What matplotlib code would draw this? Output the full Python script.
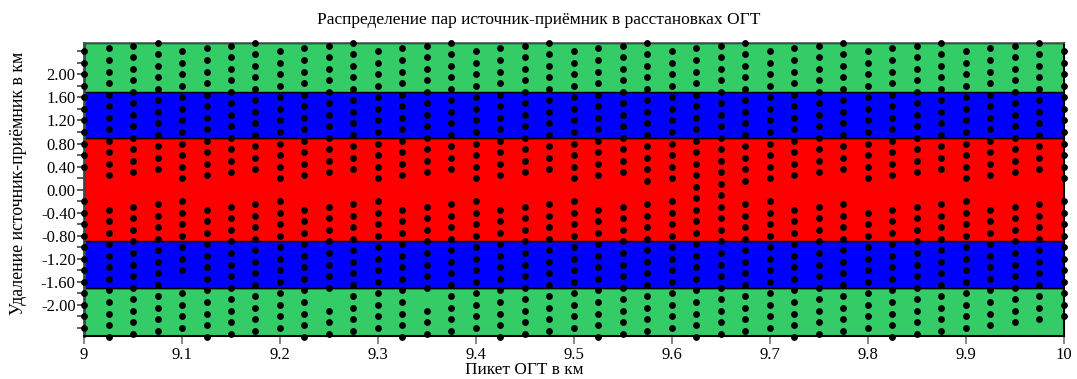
import matplotlib
matplotlib.use("Agg")
import matplotlib.pyplot as plt

# Пикеты ОГТ (км)
piket = [9.000, 9.025, 9.050, 9.075, 9.100, 9.125, 9.150, 9.175, 9.200, 9.225,
         9.250, 9.275, 9.300, 9.325, 9.350, 9.375, 9.400, 9.425, 9.450, 9.475,
         9.500, 9.525, 9.550, 9.575, 9.600, 9.625, 9.650, 9.675, 9.700, 9.725,
         9.750, 9.775, 9.800, 9.825, 9.850, 9.875, 9.900, 9.925, 9.950, 9.975,
         10.000]

# Удаления источник-приёмник (км) для каждого пикета
udalenie = [
    [2.4, 2.2, 2.0, 1.8, 1.6, 1.4, 1.2, 1.0, 0.8, 0.6, 0.4, -0.2, -0.4, -0.6, -0.8, -1.0, -1.2, -1.4, -1.6, -1.8, -2.0, -2.2, -2.4],
    [2.45, 2.25, 2.05, 1.85, 1.65, 1.45, 1.25, 1.05, 0.85, 0.65, 0.45, 0.25, -0.35, -0.55, -0.75, -0.95, -1.15, -1.35, -1.55, -1.75, -1.95, -2.15, -2.35, -2.55],
    [2.5, 2.3, 2.1, 1.9, 1.7, 1.5, 1.3, 1.1, 0.9, 0.7, 0.5, 0.3, -0.3, -0.5, -0.7, -0.9, -1.1, -1.3, -1.5, -1.7, -1.9, -2.1, -2.3, -2.5],
    [2.55, 2.35, 2.15, 1.95, 1.75, 1.55, 1.35, 1.15, 0.95, 0.75, 0.55, 0.35, -0.25, -0.45, -0.65, -0.85, -1.05, -1.25, -1.45, -1.65, -1.85, -2.05, -2.25, -2.45],
    [2.4, 2.2, 2.0, 1.8, 1.6, 1.4, 1.2, 1.0, 0.8, 0.6, 0.4, 0.2, -0.2, -0.4, -0.6, -0.8, -1.0, -1.2, -1.4, -1.8, -2.0, -2.2, -2.4],
    [2.45, 2.25, 2.05, 1.85, 1.65, 1.45, 1.25, 1.05, 0.85, 0.65, 0.45, 0.25, -0.35, -0.55, -0.75, -0.95, -1.15, -1.35, -1.55, -1.75, -1.95, -2.15, -2.35, -2.55],
    [2.5, 2.3, 2.1, 1.9, 1.7, 1.5, 1.3, 1.1, 0.9, 0.7, 0.5, 0.3, -0.3, -0.5, -0.7, -0.9, -1.1, -1.3, -1.5, -1.7, -1.9, -2.1, -2.3, -2.5],
    [2.55, 2.35, 2.15, 1.95, 1.75, 1.55, 1.35, 1.15, 0.95, 0.75, 0.55, 0.35, -0.25, -0.45, -0.65, -0.85, -1.05, -1.25, -1.45, -1.65, -1.85, -2.05, -2.25, -2.45],
    [2.4, 2.2, 2.0, 1.8, 1.6, 1.4, 1.2, 1.0, 0.8, 0.6, 0.4, 0.2, -0.2, -0.4, -0.6, -0.8, -1.0, -1.2, -1.4, -1.6, -1.8, -2.0, -2.2, -2.4],
    [2.45, 2.25, 2.05, 1.85, 1.65, 1.45, 1.25, 1.05, 0.85, 0.65, 0.45, 0.25, -0.35, -0.55, -0.75, -0.95, -1.15, -1.35, -1.55, -1.75, -1.95, -2.15, -2.35, -2.55],
    [2.5, 2.3, 2.1, 1.9, 1.7, 1.5, 1.3, 1.1, 0.9, 0.7, 0.5, 0.3, -0.3, -0.5, -0.7, -0.9, -1.1, -1.3, -1.5, -1.7, -2.1, -2.3, -2.5],
    [2.55, 2.35, 2.15, 1.95, 1.75, 1.55, 1.35, 1.15, 0.95, 0.75, 0.55, 0.35, -0.25, -0.45, -0.65, -0.85, -1.05, -1.25, -1.45, -1.65, -1.85, -2.05, -2.25, -2.45],
    [2.4, 2.2, 2.0, 1.8, 1.6, 1.4, 1.2, 1.0, 0.8, 0.6, 0.4, 0.2, -0.2, -0.4, -0.6, -0.8, -1.0, -1.2, -1.4, -1.6, -1.8, -2.0, -2.2, -2.4],
    [2.45, 2.25, 2.05, 1.85, 1.65, 1.45, 1.25, 1.05, 0.85, 0.65, 0.45, 0.25, -0.35, -0.55, -0.75, -0.95, -1.15, -1.35, -1.55, -1.75, -1.95, -2.15, -2.35, -2.55],
    [2.5, 2.3, 2.1, 1.9, 1.7, 1.5, 1.3, 1.1, 0.9, 0.7, 0.5, 0.3, -0.3, -0.5, -0.7, -0.9, -1.1, -1.3, -1.5, -1.7, -2.1, -2.3, -2.5],
    [2.55, 2.35, 2.15, 1.95, 1.75, 1.55, 1.35, 1.15, 0.95, 0.75, 0.55, 0.35, -0.25, -0.45, -0.65, -0.85, -1.05, -1.25, -1.45, -1.65, -1.85, -2.05, -2.25, -2.45],
    [2.4, 2.2, 2.0, 1.8, 1.6, 1.4, 1.2, 1.0, 0.8, 0.6, 0.4, 0.2, -0.2, -0.4, -0.6, -0.8, -1.0, -1.2, -1.4, -1.6, -1.8, -2.0, -2.2, -2.4],
    [2.45, 2.25, 2.05, 1.85, 1.65, 1.45, 1.25, 1.05, 0.85, 0.65, 0.45, 0.25, -0.35, -0.55, -0.75, -0.95, -1.15, -1.35, -1.55, -1.75, -1.95, -2.15, -2.35, -2.55],
    [2.5, 2.3, 2.1, 1.9, 1.7, 1.5, 1.3, 1.1, 0.9, 0.7, 0.5, 0.3, -0.3, -0.5, -0.7, -0.9, -1.1, -1.3, -1.5, -1.7, -1.9, -2.1, -2.3, -2.5],
    [2.55, 2.35, 2.15, 1.95, 1.75, 1.55, 1.35, 1.15, 0.95, 0.75, 0.55, 0.35, -0.25, -0.45, -0.65, -0.85, -1.05, -1.25, -1.45, -1.65, -1.85, -2.05, -2.25, -2.45],
    [2.4, 2.2, 2.0, 1.8, 1.6, 1.4, 1.2, 1.0, 0.8, 0.6, 0.4, 0.2, -0.2, -0.4, -0.6, -0.8, -1.0, -1.2, -1.4, -1.6, -1.8, -2.0, -2.2, -2.4],
    [2.45, 2.25, 2.05, 1.85, 1.65, 1.45, 1.25, 1.05, 0.85, 0.65, 0.45, 0.25, -0.35, -0.55, -0.75, -0.95, -1.15, -1.35, -1.55, -1.75, -1.95, -2.15, -2.35, -2.55],
    [2.5, 2.3, 2.1, 1.9, 1.7, 1.5, 1.3, 1.1, 0.9, 0.7, 0.5, 0.3, -0.3, -0.5, -0.7, -0.9, -1.1, -1.3, -1.5, -1.7, -1.9, -2.1, -2.3, -2.5],
    [2.55, 2.35, 2.15, 1.95, 1.75, 1.55, 1.35, 1.15, 0.95, 0.75, 0.55, 0.35, 0.15, -0.25, -0.45, -0.65, -0.85, -1.05, -1.25, -1.45, -1.65, -1.85, -2.05, -2.25, -2.45],
    [2.4, 2.2, 2.0, 1.8, 1.6, 1.4, 1.2, 1.0, 0.8, 0.6, 0.4, 0.2, -0.2, -0.4, -0.6, -0.8, -1.0, -1.2, -1.4, -1.6, -1.8, -2.0, -2.2, -2.4],
    [2.45, 2.25, 2.05, 1.85, 1.65, 1.45, 1.25, 1.05, 0.85, 0.65, 0.45, 0.25, 0.05, -0.15, -0.35, -0.55, -0.75, -0.95, -1.15, -1.35, -1.55, -1.75, -1.95, -2.15, -2.35, -2.55],
    [2.5, 2.3, 2.1, 1.9, 1.7, 1.5, 1.3, 1.1, 0.9, 0.7, 0.5, 0.3, 0.1, -0.1, -0.3, -0.5, -0.7, -0.9, -1.1, -1.3, -1.5, -1.7, -1.9, -2.1, -2.3, -2.5],
    [2.55, 2.35, 2.15, 1.95, 1.75, 1.55, 1.35, 1.15, 0.95, 0.75, 0.55, 0.35, 0.15, -0.25, -0.45, -0.65, -0.85, -1.05, -1.25, -1.45, -1.65, -1.85, -2.05, -2.25, -2.45],
    [2.4, 2.2, 2.0, 1.8, 1.6, 1.4, 1.2, 1.0, 0.8, 0.6, 0.4, 0.2, -0.2, -0.4, -0.6, -0.8, -1.0, -1.2, -1.4, -1.6, -1.8, -2.0, -2.2, -2.4],
    [2.45, 2.25, 2.05, 1.85, 1.65, 1.45, 1.25, 1.05, 0.85, 0.65, 0.45, 0.25, -0.35, -0.55, -0.75, -0.95, -1.15, -1.35, -1.55, -1.75, -1.95, -2.15, -2.35, -2.55],
    [2.5, 2.3, 2.1, 1.9, 1.7, 1.5, 1.3, 1.1, 0.9, 0.7, 0.5, 0.3, -0.3, -0.5, -0.7, -0.9, -1.1, -1.3, -1.5, -1.7, -1.9, -2.1, -2.3, -2.5],
    [2.55, 2.35, 2.15, 1.95, 1.75, 1.55, 1.35, 1.15, 0.95, 0.75, 0.55, 0.35, -0.25, -0.45, -0.65, -0.85, -1.05, -1.25, -1.45, -1.65, -1.85, -2.05, -2.25, -2.45],
    [2.4, 2.2, 2.0, 1.8, 1.6, 1.4, 1.2, 1.0, 0.8, 0.6, 0.4, 0.2, -0.4, -0.6, -0.8, -1.0, -1.2, -1.4, -1.6, -1.8, -2.0, -2.2, -2.4],
    [2.45, 2.25, 2.05, 1.85, 1.65, 1.45, 1.25, 1.05, 0.85, 0.65, 0.45, 0.25, -0.35, -0.55, -0.75, -0.95, -1.15, -1.35, -1.55, -1.75, -1.95, -2.15, -2.35, -2.55],
    [2.5, 2.3, 2.1, 1.9, 1.7, 1.5, 1.3, 1.1, 0.9, 0.7, 0.5, 0.3, -0.3, -0.5, -0.7, -0.9, -1.1, -1.3, -1.5, -1.7, -1.9, -2.1, -2.3, -2.5],
    [2.55, 2.35, 2.15, 1.95, 1.75, 1.55, 1.35, 1.15, 0.95, 0.75, 0.55, 0.35, -0.25, -0.45, -0.65, -0.85, -1.05, -1.25, -1.45, -1.65, -1.85, -2.05, -2.25, -2.45],
    [2.4, 2.2, 2.0, 1.8, 1.6, 1.4, 1.2, 1.0, 0.8, 0.6, 0.4, 0.2, -0.2, -0.4, -0.6, -0.8, -1.0, -1.2, -1.4, -1.6, -1.8, -2.0, -2.2, -2.4],
    [2.45, 2.25, 2.05, 1.85, 1.65, 1.45, 1.25, 1.05, 0.85, 0.65, 0.45, 0.25, -0.35, -0.55, -0.75, -0.95, -1.15, -1.35, -1.55, -1.75, -1.95, -2.15, -2.35],
    [2.5, 2.3, 2.1, 1.9, 1.7, 1.5, 1.3, 1.1, 0.9, 0.7, 0.5, 0.3, -0.3, -0.5, -0.7, -0.9, -1.1, -1.3, -1.5, -1.7, -1.9, -2.1, -2.3],
    [2.55, 2.35, 2.15, 1.95, 1.75, 1.55, 1.35, 1.15, 0.95, 0.75, 0.55, 0.35, -0.25, -0.45, -0.65, -0.85, -1.05, -1.25, -1.45, -1.65, -1.85, -2.05, -2.25],
    [2.4, 2.2, 2.0, 1.8, 1.6, 1.4, 1.2, 1.0, 0.8, 0.6, 0.4, 0.2, -0.2, -0.4, -0.6, -0.8, -1.0, -1.2, -1.4, -1.6, -1.8, -2.0, -2.2],
]

# Зоны удалений: (нижняя граница, верхняя граница, цвет)
zony = [(-2.54, -1.70, "#33CC66"), (-1.70, -0.90, "#0000FF"), (-0.90, 0.90, "#FF0000"),
        (0.90, 1.70, "#0000FF"), (1.70, 2.54, "#33CC66")]

xticks = [9.0, 9.1, 9.2, 9.3, 9.4, 9.5, 9.6, 9.7, 9.8, 9.9, 10.0]
xlabels = ["9", "9.1", "9.2", "9.3", "9.4", "9.5", "9.6", "9.7", "9.8", "9.9", "10"]
yticks = [-2.0, -1.6, -1.2, -0.8, -0.4, 0.0, 0.4, 0.8, 1.2, 1.6, 2.0]
ylabels = ["-2.00", "-1.60", "-1.20", "-0.80", "-0.40", "0.00", "0.40", "0.80", "1.20", "1.60", "2.00"]
yminor = [-2.4, -2.2, -1.8, -1.4, -1.0, -0.6, -0.2, 0.2, 0.6, 1.0, 1.4, 1.8, 2.2, 2.4]

plt.rcParams["font.family"] = ["Liberation Serif", "DejaVu Serif"]

fig = plt.figure(figsize=(10.77, 3.79), dpi=100)
ax = fig.add_axes([0.078, 0.1135, 0.9099, 0.7723])

for y0, y1, c in zony:
    ax.axhspan(y0, y1, facecolor=c, edgecolor="black", linewidth=1.0, zorder=0)

for x, ys in zip(piket, udalenie):
    ax.plot([x] * len(ys), ys, "o", color="black", markersize=3.9, linestyle="none",
            clip_on=False, zorder=4)

ax.set_xlim(9.0, 10.0)
ax.set_ylim(-2.54, 2.54)

ax.set_xticks(xticks)
ax.set_xticklabels(xlabels, fontsize=12)
ax.set_yticks(yticks)
ax.set_yticklabels(ylabels, fontsize=12)
ax.set_yticks(yminor, minor=True)
ax.tick_params(axis="x", length=6, width=1.2, color="#777777", pad=2)
ax.tick_params(axis="y", which="both", length=5, width=1.2, color="#444444", pad=1)

for s in ["bottom", "right"]:
    ax.spines[s].set_linewidth(1.5)
    ax.spines[s].set_color("black")
ax.spines["left"].set_linewidth(2.0)
ax.spines["left"].set_color("#2F4F3F")
ax.spines["top"].set_linewidth(1.2)
ax.spines["top"].set_color("#555555")

fig.text(0.5, 0.947, "Распределение пар источник-приёмник в расстановках ОГТ",
         ha="center", va="center", fontsize=12.5)
fig.text(0.487, 0.024, "Пикет ОГТ в км", ha="center", va="center", fontsize=12.4)
fig.text(0.017, 0.515, "Удаление источник-приёмник в км", ha="center", va="center",
         rotation=90, fontsize=12.8)

fig.savefig("out.png", dpi=100)
